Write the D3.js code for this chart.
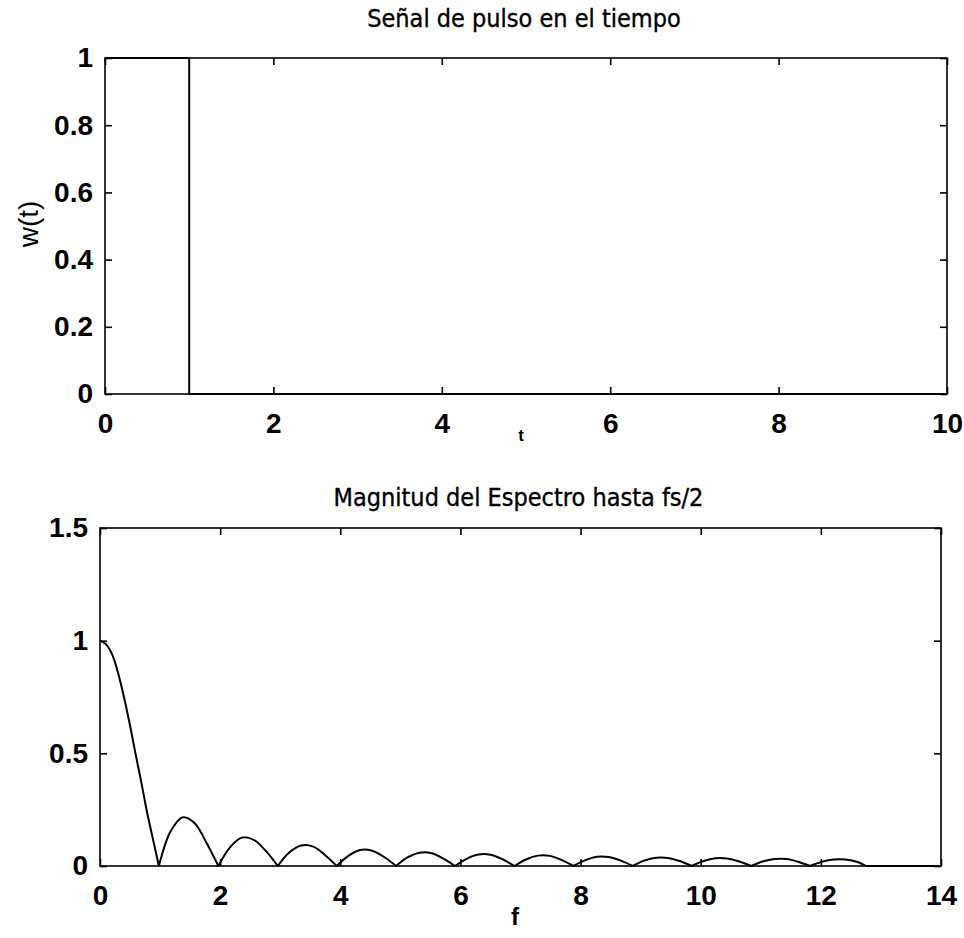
<!DOCTYPE html>
<html>
<head>
<meta charset="utf-8">
<script src="https://cdn.jsdelivr.net/npm/d3@7"></script>
<style>
  html, body { margin: 0; padding: 0; background: #fff; }
  svg { display: block; }
  .tick text { font-family: "Liberation Sans", Arial, sans-serif; font-weight: bold; font-size: 28px; fill: #000; }
  .title { font-family: "Liberation Sans Narrow", "DejaVu Sans Condensed", "Liberation Sans", sans-serif; font-size: 25px; fill: #000; stroke: #000; stroke-width: 0.35px; }
</style>
</head>
<body>
<script>
// Pulse in time: w(t) = 1 on [0, 1], 0 afterwards
const timeT = [0, 1, 1, 10];
const pulseW = [1, 1, 0, 0];
const timeTicks = [0, 2, 4, 6, 8, 10];
const pulseTicks = [0, 0.2, 0.4, 0.6, 0.8, 1];

// Spectrum magnitude up to fs/2
const freqF = [0, 0.10, 0.20, 0.30, 0.39, 0.49, 0.59, 0.69, 0.79, 0.89, 0.98,
  1.18, 1.38, 1.58, 1.77, 1.97,
  2.17, 2.36, 2.56, 2.76, 2.96,
  3.15, 3.35, 3.55, 3.74, 3.94,
  4.14, 4.33, 4.53, 4.73, 4.93,
  5.12, 5.32, 5.52, 5.71, 5.91,
  6.11, 6.30, 6.50, 6.70, 6.90,
  7.09, 7.29, 7.49, 7.68, 7.88,
  8.08, 8.27, 8.47, 8.67, 8.87,
  9.06, 9.26, 9.46, 9.65, 9.85,
  10.05, 10.24, 10.44, 10.64, 10.84,
  11.03, 11.23, 11.43, 11.62, 11.82,
  12.02, 12.21, 12.41, 12.61, 12.75,
  14];
const specMag = [1, 0.984, 0.94, 0.858, 0.76, 0.637, 0.50, 0.368, 0.23, 0.109, 0,
  0.156, 0.216, 0.189, 0.104, 0,
  0.085, 0.126, 0.116, 0.067, 0,
  0.060, 0.091, 0.086, 0.050, 0,
  0.046, 0.071, 0.068, 0.040, 0,
  0.038, 0.059, 0.057, 0.034, 0,
  0.033, 0.051, 0.050, 0.030, 0,
  0.029, 0.046, 0.045, 0.027, 0,
  0.026, 0.041, 0.040, 0.024, 0,
  0.024, 0.037, 0.036, 0.022, 0,
  0.022, 0.034, 0.033, 0.020, 0,
  0.020, 0.031, 0.031, 0.019, 0,
  0.019, 0.029, 0.029, 0.018, 0,
  0];
const freqTicks = [0, 2, 4, 6, 8, 10, 12, 14];
const magTicks = [0, 0.5, 1, 1.5];

const W = 964, H = 938;
const svg = d3.select("body").append("svg").attr("width", W).attr("height", H);

// split a trace at its zero crossings so each lobe is smoothed on its own
function lobes(pts) {
  const segs = [];
  let cur = [];
  pts.forEach((p, i) => {
    cur.push(p);
    if (p[1] === 0 && cur.length > 1) {
      segs.push(cur);
      cur = [p];
    }
  });
  if (cur.length > 1) segs.push(cur);
  return segs;
}

function panel(cfg) {
  const { left, right, top, bottom, xDom, yDom, xTicks, yTicks, xs, ys, smooth, title, titleY, xLabel, xLabelX, xLabelY, xLabelSize, yLabel, yFmt } = cfg;
  const x = d3.scaleLinear().domain(xDom).range([left, right]);
  const y = d3.scaleLinear().domain(yDom).range([bottom, top]);
  const g = svg.append("g");
  const tl = 7;

  // axes with inward ticks on all four sides
  g.append("g").attr("transform", `translate(0,${bottom})`)
    .call(d3.axisBottom(x).tickValues(xTicks).tickSize(-tl).tickPadding(19).tickFormat(d3.format("d")))
    .call(a => a.select(".domain").remove());
  g.append("g").attr("transform", `translate(0,${top})`)
    .call(d3.axisTop(x).tickValues(xTicks).tickSize(-tl).tickFormat(""))
    .call(a => a.select(".domain").remove());
  g.append("g").attr("transform", `translate(${left},0)`)
    .call(d3.axisLeft(y).tickValues(yTicks).tickSize(-tl).tickPadding(12).tickFormat(yFmt))
    .call(a => a.select(".domain").remove());
  g.append("g").attr("transform", `translate(${right},0)`)
    .call(d3.axisRight(y).tickValues(yTicks).tickSize(-tl).tickFormat(""))
    .call(a => a.select(".domain").remove());
  g.selectAll(".tick line").attr("stroke", "#000").attr("stroke-width", 1.6);

  g.append("rect").attr("x", left).attr("y", top)
    .attr("width", right - left).attr("height", bottom - top)
    .attr("fill", "none").attr("stroke", "#000").attr("stroke-width", 1.6);

  const pts = xs.map((v, i) => [v, ys[i]]);
  const line = d3.line().x(d => x(d[0])).y(d => y(d[1]));
  if (smooth) line.curve(d3.curveCatmullRom.alpha(0.5));
  g.selectAll("path.trace").data(smooth ? lobes(pts) : [pts]).join("path")
    .attr("class", "trace")
    .attr("d", line).attr("fill", "none").attr("stroke", "#000")
    .attr("stroke-width", 2).attr("stroke-linejoin", "round");

  g.append("text").attr("class", "title")
    .attr("x", (left + right) / 2 - 2).attr("y", titleY)
    .attr("text-anchor", "middle").text(title);

  g.append("text").attr("x", xLabelX).attr("y", xLabelY)
    .attr("text-anchor", "middle")
    .style("font-family", "'Liberation Sans', Arial, sans-serif")
    .style("font-weight", "bold").style("font-size", xLabelSize + "px")
    .text(xLabel);

  if (yLabel) {
    g.append("text")
      .attr("transform", `translate(38,${(top + bottom) / 2 - 2}) rotate(-90)`)
      .attr("text-anchor", "middle")
      .style("font-family", "'Liberation Sans', Arial, sans-serif")
      .style("font-size", "28px")
      .text(yLabel);
  }
}

panel({
  left: 105, right: 947, top: 58, bottom: 394,
  xDom: [0, 10], yDom: [0, 1], xTicks: timeTicks, yTicks: pulseTicks,
  xs: timeT, ys: pulseW, smooth: false,
  title: "Señal de pulso en el tiempo", titleY: 27,
  xLabel: "t", xLabelX: 521, xLabelY: 441, xLabelSize: 17,
  yLabel: "w(t)", yFmt: d => d === 0 || d === 1 ? String(d) : d.toFixed(1)
});

panel({
  left: 100, right: 941, top: 528, bottom: 866,
  xDom: [0, 14], yDom: [0, 1.5], xTicks: freqTicks, yTicks: magTicks,
  xs: freqF, ys: specMag, smooth: true,
  title: "Magnitud del Espectro hasta fs/2", titleY: 506,
  xLabel: "f", xLabelX: 515, xLabelY: 925, xLabelSize: 24,
  yLabel: null, yFmt: d => String(d)
});
</script>
</body>
</html>
